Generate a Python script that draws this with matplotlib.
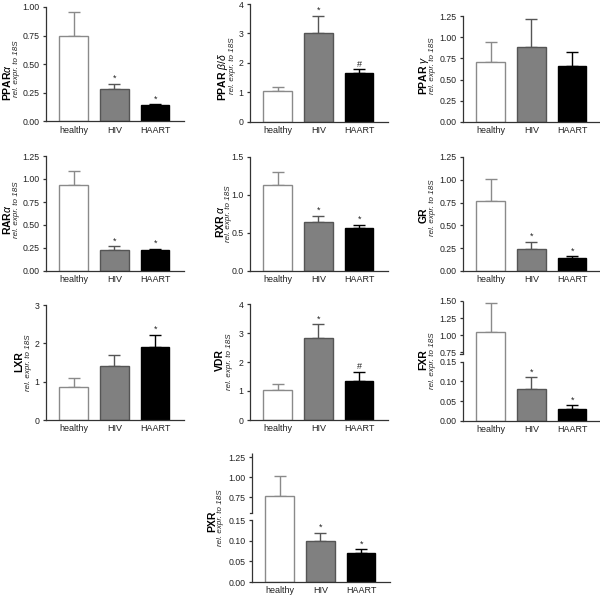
import numpy as np
import matplotlib
matplotlib.use("Agg")
import matplotlib.pyplot as plt
from matplotlib.ticker import FormatStrFormatter, FixedLocator
from matplotlib.transforms import blended_transform_factory

plt.rcParams['font.family'] = ['Liberation Sans', 'DejaVu Sans']
plt.rcParams['mathtext.fontset'] = 'custom'
plt.rcParams['mathtext.rm'] = 'Liberation Sans'
plt.rcParams['mathtext.it'] = 'Liberation Sans:italic'
plt.rcParams['mathtext.bf'] = 'Liberation Sans:bold'

groups = ['healthy', 'HIV', 'HAART']

# mean and SEM (upper error only) per receptor
ppara_mean = [0.75, 0.28, 0.14]
ppara_sem = [0.21, 0.05, 0.01]
ppara_sig = ['', '*', '*']

ppard_mean = [1.05, 3.00, 1.66]
ppard_sem = [0.15, 0.60, 0.13]
ppard_sig = ['', '*', '#']

pparg_mean = [0.71, 0.89, 0.66]
pparg_sem = [0.23, 0.32, 0.16]
pparg_sig = ['', '', '']

rara_mean = [0.94, 0.23, 0.23]
rara_sem = [0.15, 0.04, 0.01]
rara_sig = ['', '*', '*']

rxra_mean = [1.13, 0.65, 0.56]
rxra_sem = [0.17, 0.08, 0.05]
rxra_sig = ['', '*', '*']

gr_mean = [0.77, 0.24, 0.14]
gr_sem = [0.24, 0.08, 0.02]
gr_sig = ['', '*', '*']

lxr_mean = [0.87, 1.42, 1.91]
lxr_sem = [0.22, 0.28, 0.31]
lxr_sig = ['', '', '*']

vdr_mean = [1.02, 2.84, 1.35]
vdr_sem = [0.21, 0.46, 0.30]
vdr_sig = ['', '*', '#']

fxr_mean = [1.04, 0.08, 0.03]
fxr_sem = [0.43, 0.03, 0.01]
fxr_sig = ['', '*', '*']

pxr_mean = [0.77, 0.10, 0.07]
pxr_sem = [0.24, 0.02, 0.01]
pxr_sig = ['', '*', '*']

face = ['white', '#808080', 'black']
edge = ['#8a8a8a', '#555555', 'black']
axcol = '#333333'

W, H = 600, 595
fig = plt.figure(figsize=(W / 100, H / 100), dpi=100)


def broken_scale(low_top, up_bot, s1, gap, s2):
    xp = [-10, 0, low_top, up_bot, up_bot + 10]
    fp = [-10 * s1, 0, low_top * s1, low_top * s1 + gap, low_top * s1 + gap + 10 * s2]
    fwd = lambda v: np.interp(v, xp, fp)
    inv = lambda v: np.interp(v, fp, xp)
    return fwd, inv


def panel(left, top, bottom, mean, sem, sig, ylim, yticks, fmt, label, sub,
          main_off, sub_off, brk=None):
    axw = 137.6
    ax = fig.add_axes([left / W, 1 - bottom / H, axw / W, (bottom - top) / H])
    x = np.arange(3)
    for i in range(3):
        ax.errorbar(x[i], mean[i], yerr=[[0], [sem[i]]], fmt='none', ecolor=edge[i],
                    elinewidth=1.0, capsize=4.5, capthick=1.0, zorder=1)
    ax.bar(x, mean, width=0.7, color=face, edgecolor=edge, linewidth=1.0, zorder=2)
    for i in range(3):
        if sig[i]:
            ax.annotate(sig[i], (x[i], mean[i] + sem[i]), xytext=(0, 0.5),
                        textcoords='offset points', ha='center', va='bottom',
                        fontsize=6.5, color='#222222')
    if brk is not None:
        fwd, inv = broken_scale(*brk)
        ax.set_yscale('function', functions=(fwd, inv))
    ax.set_xlim(-0.68, 2.7)
    ax.set_ylim(*ylim)
    ax.yaxis.set_major_locator(FixedLocator(yticks))
    ax.yaxis.set_major_formatter(FormatStrFormatter(fmt))
    ax.set_xticks(x)
    ax.set_xticklabels(groups)
    for s in ['top', 'right']:
        ax.spines[s].set_visible(False)
    for s in ['left', 'bottom']:
        ax.spines[s].set_color(axcol)
        ax.spines[s].set_linewidth(0.9)
    ax.tick_params(axis='y', length=2.5, width=0.9, color=axcol, labelsize=6.3,
                   labelcolor='#222222', pad=2)
    ax.tick_params(axis='x', length=0, labelsize=6.5, labelcolor='#222222', pad=3)
    if brk is not None:
        low_top, up_bot = brk[0], brk[1]
        ax.spines['left'].set_bounds(0, low_top)
        tr = blended_transform_factory(ax.transAxes, ax.transData)
        ax.plot([0, 0], [up_bot, ylim[1]], transform=tr, color=axcol, lw=0.9,
                clip_on=False, solid_capstyle='butt')
        ax.plot([-2.5 / axw, 0], [up_bot, up_bot], transform=tr, color=axcol,
                lw=0.9, clip_on=False)
    yc = (top + bottom) / 2
    kw = dict(rotation=90, ha='center', va='center', fontsize=7.5)
    if not label.startswith('$'):
        kw['fontweight'] = 'bold'
    fig.text((left + main_off[0]) / W, 1 - (yc + main_off[1]) / H, label, **kw)
    fig.text((left + sub_off[0]) / W, 1 - (yc + sub_off[1]) / H, sub,
             rotation=90, ha='center', va='center', fontsize=5.8, style='italic',
             color='#222222')
    return ax


sub = 'rel. expr. to 18S'
q = [0, 0.25, 0.5, 0.75, 1.0, 1.25]

panel(46, 7, 121.5, ppara_mean, ppara_sem, ppara_sig, (0, 1.0), q[:5], '%.2f',
      r'$\mathbf{PPAR}\alpha$', sub, (-39, 18), (-30, 4))
panel(250, 4, 122, ppard_mean, ppard_sem, ppard_sig, (0, 4), [0, 1, 2, 3, 4], '%d',
      r'$\mathbf{PPAR}\ \beta/\delta$', sub, (-27, 14), (-18, 3))
panel(463, 16, 122, pparg_mean, pparg_sem, pparg_sig, (0, 1.25), q, '%.2f',
      r'$\mathbf{PPAR}\ \gamma$', sub, (-39, 6), (-30, -3))
panel(46, 156, 271, rara_mean, rara_sem, rara_sig, (0, 1.25), q, '%.2f',
      r'$\mathbf{RAR}\alpha$', sub, (-39, 6), (-30, -4))
panel(250, 157, 271, rxra_mean, rxra_sem, rxra_sig, (0, 1.5), [0, 0.5, 1.0, 1.5], '%.1f',
      r'$\mathbf{RXR}\ \alpha$', sub, (-30, 8), (-21.5, 0))
panel(463, 301, 420.7, fxr_mean, fxr_sem, fxr_sig, (0, 1.5),
      [0, 0.05, 0.10, 0.15, 0.75, 1.0, 1.25, 1.5], '%.2f',
      'FXR', sub, (-39.5, -1), (-30.5, 0), brk=(0.15, 0.73, 393, 8, 68.4))
panel(463, 157, 271, gr_mean, gr_sem, gr_sig, (0, 1.25), q, '%.2f',
      'GR', sub, (-39.5, 1), (-30.5, -6))
panel(46, 305, 420, lxr_mean, lxr_sem, lxr_sig, (0, 3), [0, 1, 2, 3], '%d',
      'LXR', sub, (-27, -1), (-17, 0))
panel(250, 304, 420, vdr_mean, vdr_sem, vdr_sig, (0, 4), [0, 1, 2, 3, 4], '%d',
      'VDR', sub, (-30, -2), (-20.5, 0))
panel(252, 453, 582, pxr_mean, pxr_sem, pxr_sig, (0, 1.30),
      [0, 0.05, 0.10, 0.15, 0.75, 1.0, 1.25], '%.2f',
      'PXR', sub, (-40, 4), (-31, 0), brk=(0.15, 0.557, 411, 7.6, 80))

fig.savefig('out.png', dpi=100, facecolor='white')
